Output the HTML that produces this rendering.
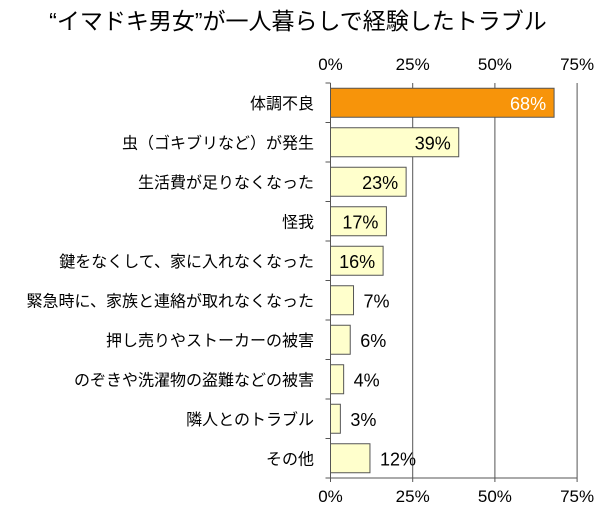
<!DOCTYPE html>
<html><head><meta charset="utf-8"><style>
body{margin:0;background:#fff;}
svg text{font-family:"Liberation Sans","Noto Sans CJK JP",sans-serif;}
</style></head><body>
<svg width="600" height="510" viewBox="0 0 600 510">
<text x="298" y="29" font-size="23" text-anchor="middle" fill="#000">“イマドキ男女”が一人暮らしで経験したトラブル</text>
<g id="plot"></g>
</svg>
<script>
const categories=["体調不良","虫（ゴキブリなど）が発生","生活費が足りなくなった","怪我","鍵をなくして、家に入れなくなった","緊急時に、家族と連絡が取れなくなった","押し売りやストーカーの被害","のぞきや洗濯物の盗難などの被害","隣人とのトラブル","その他"];
const values=[68,39,23,17,16,7,6,4,3,12];
const ticks=[0,25,50,75];
const tickLabels=["0%","25%","50%","75%"];
const NS="http://www.w3.org/2000/svg";
const plotG=document.getElementById('plot');
const x0=330.5,pxPer=82.2/25,topY=83,bottomY=478;
const xs=v=>x0+v*pxPer;
const rowH=(bottomY-topY)/categories.length;
const ys=i=>topY+rowH*(i+0.5);
function mk(t,a){const e=document.createElementNS(NS,t);for(const k in a)e.setAttribute(k,a[k]);plotG.appendChild(e);return e;}
ticks.forEach((t,i)=>{
 const gl=mk('line',{x1:xs(t),x2:xs(t),y1:topY,y2:bottomY+4,stroke:'#555','stroke-width':1});
 
 
 [70,502].forEach(yy=>{
  const tl=mk('text',{x:xs(t),y:yy,'font-size':17,'text-anchor':'middle',fill:'#000'});
  tl.textContent=tickLabels[i];
  
  
 });
});
const ax=mk('line',{x1:x0,x2:x0,y1:topY,y2:bottomY,stroke:'#555'});


const bx=mk('line',{x1:x0-5,x2:xs(75),y1:bottomY,y2:bottomY,stroke:'#555'});


for(let i=0;i<=categories.length;i++){
 const tk=mk('line',{x1:x0-5,x2:x0,y1:topY+rowH*i,y2:topY+rowH*i,stroke:'#555'});
 
 
}
categories.forEach((c,i)=>{
 const y=ys(i),v=values[i];
 const lab=mk('text',{x:314,y:y+6,'font-size':16,'text-anchor':'end',fill:'#000'});
 lab.textContent=c;
 
 
 const r=mk('rect',{x:x0,y:y-14.5,width:xs(v)-x0,height:29,fill:i===0?'#f7940a':'#ffffcc',stroke:'#555','stroke-width':1});
 
 
 const inside=v>=15;
 const vt=mk('text',{x:inside?xs(v)-8:xs(v)+10,y:y+7,'font-size':18,'text-anchor':inside?'end':'start',fill:i===0?'#fff':'#000'});
 vt.textContent=v+'%';
 
 
});
</script>
</body></html>
